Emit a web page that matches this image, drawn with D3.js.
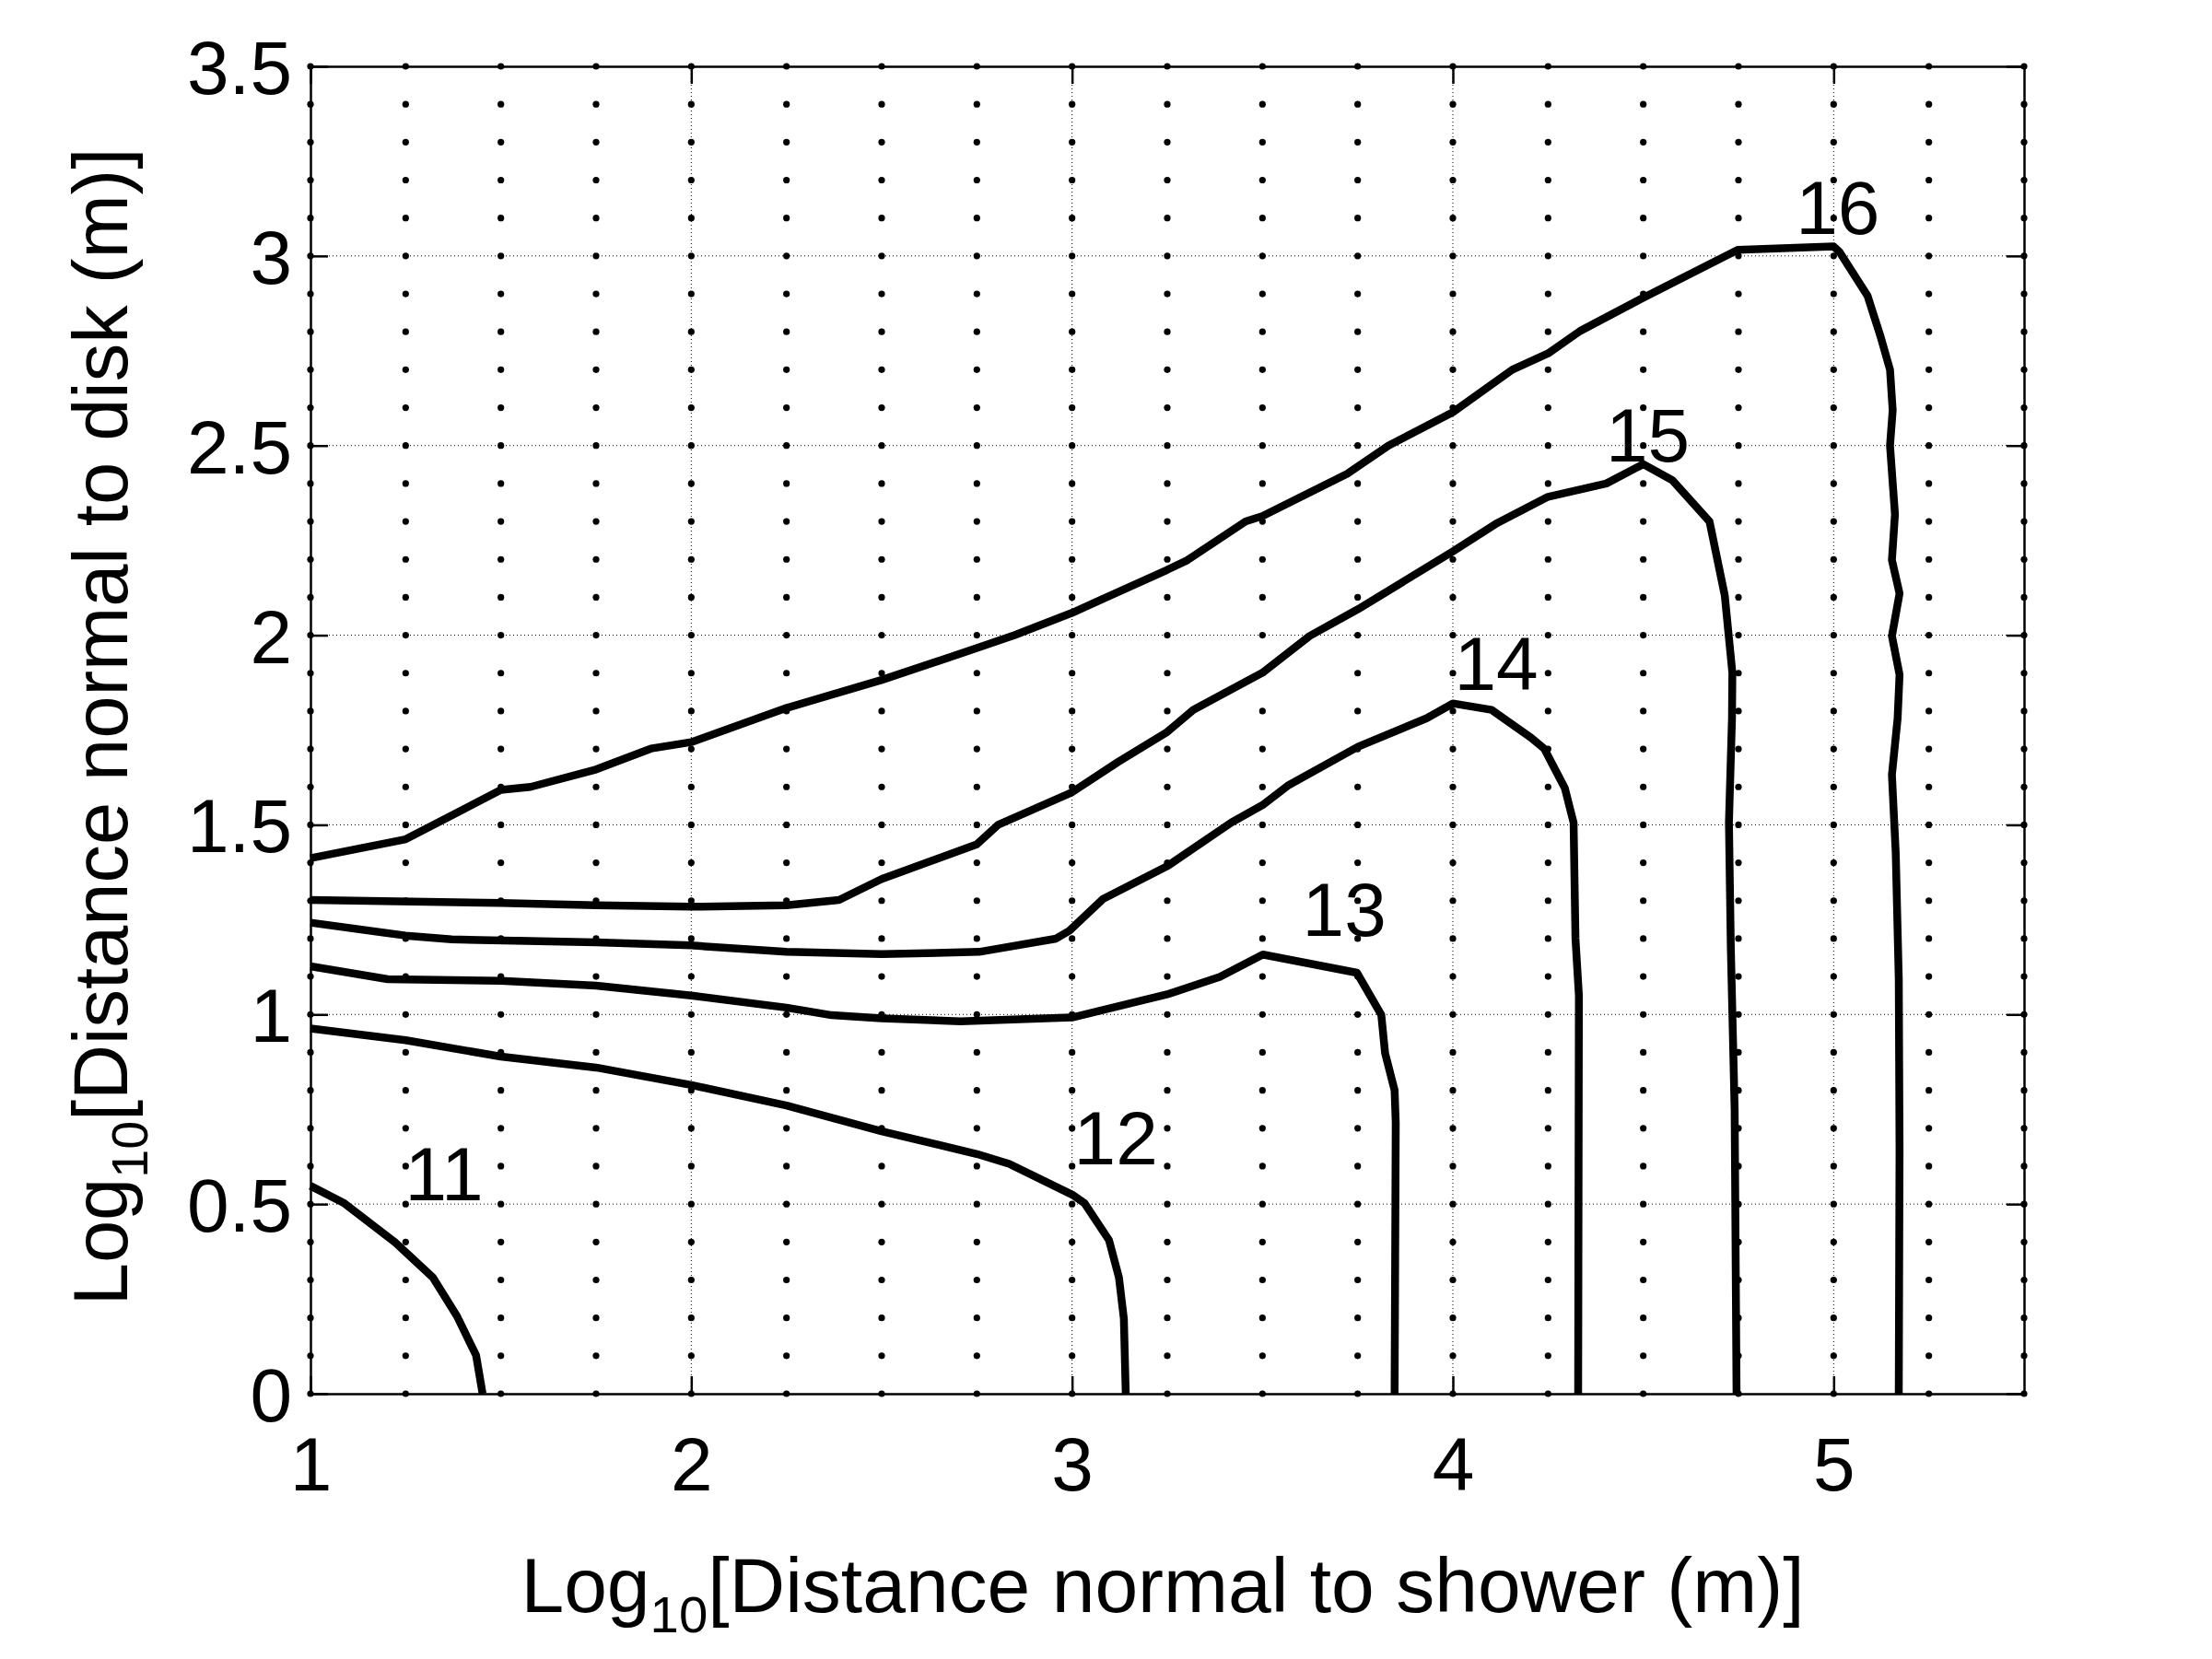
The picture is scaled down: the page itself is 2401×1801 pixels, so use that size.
<!DOCTYPE html>
<html>
<head>
<meta charset="utf-8">
<script src="https://cdn.jsdelivr.net/npm/d3@7"></script>
<style>
	body { margin: 0; background: #fff; }
	svg text { font-family: "Liberation Sans", Arial, Helvetica, sans-serif; fill: #000; }
</style>
</head>
<body>
<div id="chart"></div>
<script>
// contour levels, each traced as [log10 shower distance, log10 disk distance]
const levels = [ 11, 12, 13, 14, 15, 16 ];

const contour11 = [
	[ 1.0, 0.548 ], [ 1.089, 0.502 ], [ 1.222, 0.399 ], [ 1.321, 0.307 ], [ 1.385, 0.204 ], [ 1.435, 0.101 ], [ 1.452, 0 ]
];

const contour12 = [
	[ 1.0, 0.963 ], [ 1.25, 0.932 ], [ 1.5, 0.889 ], [ 1.75, 0.86 ], [ 2.0, 0.814 ], [ 2.25, 0.76 ], [ 2.5, 0.692 ],
	[ 2.75, 0.632 ], [ 2.835, 0.606 ], [ 3.0, 0.525 ], [ 3.033, 0.502 ], [ 3.097, 0.405 ], [ 3.123, 0.307 ],
	[ 3.136, 0.198 ], [ 3.141, 0 ]
];

const contour13 = [
	[ 1.0, 1.127 ], [ 1.203, 1.093 ], [ 1.5, 1.089 ], [ 1.75, 1.076 ], [ 2.0, 1.05 ], [ 2.25, 1.018 ], [ 2.369, 0.998 ],
	[ 2.5, 0.99 ], [ 2.707, 0.982 ], [ 3.0, 0.992 ], [ 3.25, 1.053 ], [ 3.388, 1.099 ], [ 3.501, 1.158 ],
	[ 3.748, 1.11 ], [ 3.812, 0.999 ], [ 3.822, 0.898 ], [ 3.847, 0.8 ], [ 3.85, 0.714 ], [ 3.847, 0 ]
];

const contour14 = [
	[ 1.0, 1.242 ], [ 1.25, 1.208 ], [ 1.371, 1.198 ], [ 1.75, 1.19 ], [ 2.0, 1.182 ], [ 2.25, 1.165 ], [ 2.5, 1.159 ],
	[ 2.756, 1.165 ], [ 2.958, 1.2 ], [ 2.993, 1.221 ], [ 3.082, 1.305 ], [ 3.25, 1.391 ], [ 3.418, 1.506 ],
	[ 3.5, 1.552 ], [ 3.566, 1.603 ], [ 3.751, 1.706 ], [ 3.931, 1.781 ], [ 4.0, 1.82 ], [ 4.102, 1.803 ],
	[ 4.205, 1.73 ], [ 4.24, 1.701 ], [ 4.294, 1.597 ], [ 4.317, 1.506 ], [ 4.322, 1.2 ], [ 4.331, 1.05 ],
	[ 4.329, 0 ]
];

const contour15 = [
	[ 1.0, 1.302 ], [ 1.5, 1.294 ], [ 1.75, 1.288 ], [ 2.0, 1.284 ], [ 2.25, 1.288 ], [ 2.388, 1.302 ], [ 2.5, 1.357 ],
	[ 2.749, 1.448 ], [ 2.806, 1.5 ], [ 3.0, 1.586 ], [ 3.121, 1.666 ], [ 3.25, 1.745 ], [ 3.318, 1.803 ],
	[ 3.5, 1.901 ], [ 3.624, 1.998 ], [ 3.75, 2.068 ], [ 4.0, 2.221 ], [ 4.117, 2.296 ], [ 4.25, 2.365 ],
	[ 4.403, 2.4 ], [ 4.5, 2.451 ], [ 4.576, 2.409 ], [ 4.674, 2.3 ], [ 4.714, 2.105 ], [ 4.734, 1.901 ],
	[ 4.733, 1.781 ], [ 4.725, 1.506 ], [ 4.73, 1.173 ], [ 4.74, 0.749 ], [ 4.745, 0 ]
];

const contour16 = [
	[ 1.0, 1.412 ], [ 1.25, 1.462 ], [ 1.4, 1.54 ], [ 1.5, 1.592 ], [ 1.578, 1.6 ], [ 1.75, 1.646 ], [ 1.894, 1.701 ],
	[ 2.0, 1.718 ], [ 2.25, 1.808 ], [ 2.5, 1.882 ], [ 2.75, 1.966 ], [ 2.849, 2.0 ], [ 3.0, 2.059 ], [ 3.081, 2.096 ],
	[ 3.249, 2.172 ], [ 3.303, 2.198 ], [ 3.456, 2.3 ], [ 3.5, 2.314 ], [ 3.723, 2.426 ], [ 3.831, 2.5 ],
	[ 4.0, 2.588 ], [ 4.156, 2.7 ], [ 4.25, 2.743 ], [ 4.334, 2.802 ], [ 4.5, 2.89 ], [ 4.748, 3.016 ],
	[ 5.0, 3.025 ], [ 5.015, 3.011 ], [ 5.089, 2.895 ], [ 5.123, 2.788 ], [ 5.148, 2.7 ], [ 5.155, 2.593 ],
	[ 5.148, 2.5 ], [ 5.161, 2.319 ], [ 5.153, 2.198 ], [ 5.173, 2.11 ], [ 5.153, 1.998 ], [ 5.173, 1.896 ],
	[ 5.168, 1.781 ], [ 5.153, 1.632 ], [ 5.163, 1.426 ], [ 5.171, 1.093 ], [ 5.173, 0.646 ], [ 5.171, 0 ]
];

const contours = [ contour11, contour12, contour13, contour14, contour15, contour16 ];

// where each level label sits (centre x, baseline y), in data units
const labelX = [ 1.351, 3.115, 3.715, 4.114, 4.512, 5.011 ];
const labelY = [ 0.51, 0.606, 1.208, 1.856, 2.458, 3.058 ];

// axes
const xDomain = [ 1, 5.5 ];
const yDomain = [ 0, 3.5 ];
const xTicks = [ 1, 2, 3, 4, 5 ];
const yTicks = [ 0, 0.5, 1, 1.5, 2, 2.5, 3, 3.5 ];
const xTickLabels = [ '1', '2', '3', '4', '5' ];
const yTickLabels = [ '0', '0.5', '1', '1.5', '2', '2.5', '3', '3.5' ];

let dimensions = {
	width  : 2401,
	height : 1801,
	margin : {
		top    : 72,
		right  : 204,
		bottom : 288,
		left   : 337
	}
};
dimensions.boundedWidth = dimensions.width - dimensions.margin.left - dimensions.margin.right;
dimensions.boundedHeight = dimensions.height - dimensions.margin.top - dimensions.margin.bottom;

const svg = d3
	.select('#chart')
	.append('svg')
	.attr('width', dimensions.width)
	.attr('height', dimensions.height)
	.style('display', 'block');

svg.append('rect').attr('width', dimensions.width).attr('height', dimensions.height).attr('fill', '#fff');

const bounds = svg.append('g').attr('transform', `translate(${dimensions.margin.left}, ${dimensions.margin.top})`);

const x = d3.scaleLinear().domain(xDomain).range([ 0, dimensions.boundedWidth ]);
const y = d3.scaleLinear().domain(yDomain).range([ dimensions.boundedHeight, 0 ]);

// dotted major grid
bounds
	.append('g')
	.selectAll('line')
	.data(xTicks.slice(1))
	.enter()
	.append('line')
	.attr('x1', (d) => x(d))
	.attr('x2', (d) => x(d))
	.attr('y1', 0)
	.attr('y2', dimensions.boundedHeight)
	.attr('stroke', '#000')
	.attr('stroke-width', 1)
	.attr('stroke-dasharray', '1,3');

bounds
	.append('g')
	.selectAll('line')
	.data(yTicks.slice(1, -1))
	.enter()
	.append('line')
	.attr('x1', 0)
	.attr('x2', dimensions.boundedWidth)
	.attr('y1', (d) => y(d))
	.attr('y2', (d) => y(d))
	.attr('stroke', '#000')
	.attr('stroke-width', 1)
	.attr('stroke-dasharray', '1,3');

// minor grid drawn as dots
const dotX = d3.range(0, 19).map((i) => xDomain[0] + i * 0.25);
const dotY = d3.range(0, 36).map((i) => i / 10);
const dots = [];
dotX.forEach((dx) => dotY.forEach((dy) => dots.push([ dx, dy ])));

bounds
	.append('g')
	.selectAll('circle')
	.data(dots)
	.enter()
	.append('circle')
	.attr('cx', (d) => x(d[0]))
	.attr('cy', (d) => y(d[1]))
	.attr('r', 3.6)
	.attr('fill', '#000');

// contour lines
const line = d3.line().x((d) => x(d[0])).y((d) => y(d[1]));

bounds
	.append('g')
	.selectAll('path')
	.data(contours)
	.enter()
	.append('path')
	.attr('d', line)
	.attr('fill', 'none')
	.attr('stroke', '#000')
	.attr('stroke-width', 8.5)
	.attr('stroke-linejoin', 'round');

bounds
	.append('g')
	.selectAll('text')
	.data(levels)
	.enter()
	.append('text')
	.attr('x', (d, i) => x(labelX[i]))
	.attr('y', (d, i) => y(labelY[i]))
	.attr('text-anchor', 'middle')
	.attr('font-size', 82)
	.text((d) => d);

// axes with inward ticks on all four sides
const fmtX = (d) => xTickLabels[xTicks.indexOf(d)];
const fmtY = (d) => yTickLabels[yTicks.indexOf(d)];

const xAxis = bounds
	.append('g')
	.attr('transform', `translate(0, ${dimensions.boundedHeight})`)
	.call(d3.axisBottom(x).tickValues(xTicks).tickFormat(fmtX).tickSize(-19).tickSizeOuter(0).tickPadding(47));

const yAxis = bounds
	.append('g')
	.call(d3.axisLeft(y).tickValues(yTicks).tickFormat(fmtY).tickSize(-19).tickSizeOuter(0).tickPadding(20));

bounds.append('g').call(d3.axisTop(x).tickValues(xTicks).tickFormat('').tickSize(-19).tickSizeOuter(0));
bounds
	.append('g')
	.attr('transform', `translate(${dimensions.boundedWidth}, 0)`)
	.call(d3.axisRight(y).tickValues(yTicks).tickFormat('').tickSize(-19).tickSizeOuter(0));

bounds.selectAll('.domain').attr('stroke', '#000').attr('stroke-width', 2.5);
bounds.selectAll('.tick line').attr('stroke', '#000').attr('stroke-width', 2.5);
bounds.selectAll('.tick text').attr('font-size', 82).attr('font-family', null).attr('fill', '#000');
yAxis.selectAll('.tick text').attr('dy', '0.36em');

// axis titles with subscript 10
function axisTitle(g, rest, size) {
	g.append('tspan').text('Log');
	g.append('tspan').attr('font-size', size * 0.67).attr('dy', size * 0.26).text('10');
	g.append('tspan').attr('dy', -size * 0.26).text(rest);
}

svg
	.append('text')
	.attr('x', 1262)
	.attr('y', 1750)
	.attr('text-anchor', 'middle')
	.attr('font-size', 84)
	.call(axisTitle, '[Distance normal to shower (m)]', 84);

svg
	.append('text')
	.attr('transform', 'translate(138, 789) rotate(-90)')
	.attr('text-anchor', 'middle')
	.attr('font-size', 83)
	.call(axisTitle, '[Distance normal to disk (m)]', 83);
</script>
</body>
</html>
